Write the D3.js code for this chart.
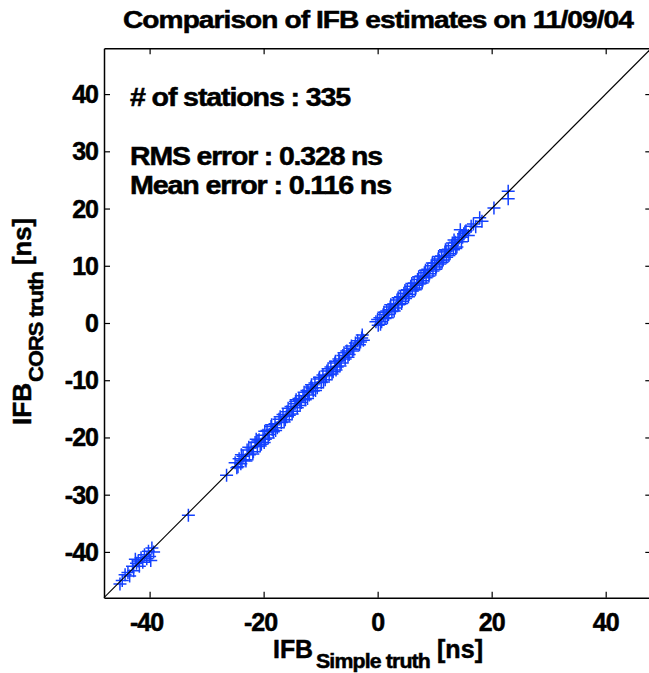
<!DOCTYPE html>
<html>
<head>
<meta charset="utf-8">
<script src="https://cdn.jsdelivr.net/npm/d3@7"></script>
<style>
  body { margin: 0; background: #fff; }
  svg text { font-family: "Liberation Sans", Arial, Helvetica, sans-serif; font-weight: bold; fill: #000; stroke: #000; stroke-width: 0.5px; }
</style>
</head>
<body>
<script>
// IFB estimates: simple truth (x) vs CORS truth (y), in ns
const simpleTruth = [
  -45.2, -44.8, -44.3, -43.8, -43.5, -43.0, -42.8, -42.5, -42.3, -42.0,
  -41.8, -41.5, -41.2, -40.9, -40.5, -40.2, -40.0, -39.8, -39.6, -39.3,
  -33.2, -26.5,
  -25.0, -24.7, -24.3, -24.0, -23.8, -23.6, -23.2, -22.9, -22.5, -22.2,
  -21.8, -21.5, -21.1, -21.0, -20.8, -20.4, -20.1, -19.9, -19.7, -19.4,
  -19.0, -18.7, -18.5, -18.3, -18.0, -17.6, -17.3, -16.9, -16.6, -16.2,
  -16.0, -15.9, -15.5, -15.2, -14.8, -14.5, -14.3, -14.1, -13.8, -13.7,
  -13.4, -13.1, -12.7, -12.4, -12.2, -12.0, -11.7, -11.5, -11.3, -11.0,
  -10.6, -10.3, -9.9, -9.6, -9.2, -9.0, -8.9, -8.5, -8.2, -7.8,
  -7.5, -7.3, -7.1, -6.8, -6.7, -6.4, -6.1, -5.7, -5.4, -5.0,
  -4.7, -4.4, -3.5, -3.2, -2.8, -2.5,
  -24.5, -23.9, -23.1, -22.6, -21.9, -21.3, -20.6, -19.8, -19.2, -18.6,
  -17.9, -17.1, -16.4, -15.7, -15.0, -14.4, -13.6, -12.9, -12.3, -11.6,
  -10.9, -10.2, -9.5, -8.7, -8.0, -7.4, -6.6, -5.9, -5.2, -4.6,
  -4.2, -3.9, -3.0, -2.7,
  -0.3, 0.1, 0.4, 0.7, 1.0, 1.3, 1.6, 1.9, 2.0, 2.2,
  2.5, 2.8, 3.1, 3.4, 3.5, 3.7, 4.0, 4.3, 4.6, 4.9,
  5.0, 5.2, 5.5, 5.8, 6.1, 6.4, 6.7, 6.9, 7.0, 7.3,
  7.6, 7.9, 8.0, 8.2, 8.5, 8.8, 9.1, 9.4, 9.7, 10.0,
  10.3, 10.6, 10.8, 10.9, 11.2, 11.5, 11.8, 12.0, 12.1, 12.4,
  12.7, 13.0, 13.3, 13.6, 13.9,
  0.0, 0.5, 1.1, 1.7, 2.3, 2.9, 3.6, 4.2, 4.8, 5.4,
  6.0, 6.6, 7.2, 7.8, 8.4, 9.0, 9.6, 10.2, 10.7, 11.3,
  11.9, 12.5, 13.1, 13.7, 14.1, 14.9, 15.3, 13.4,
  14.3, 14.5, 14.7, 15.1, 15.5, 15.9, 16.4, 16.8, 17.2, 17.9,
  18.3, 20.4, 22.9, 22.9
];
const corsTruth = [
  -45.6, -45.0, -44.0, -43.6, -44.2, -42.5, -43.3, -41.3, -42.0, -41.6,
  -42.5, -41.0, -41.8, -40.5, -41.2, -39.9, -40.8, -41.5, -39.3, -40.0,
  -33.6, -26.6,
  -24.4, -25.3, -23.7, -24.6, -24.0, -23.3, -23.9, -22.2, -23.0, -21.8,
  -22.5, -20.9, -21.6, -20.6, -20.4, -21.2, -19.6, -20.9, -20.3, -18.8,
  -19.5, -18.1, -18.6, -19.0, -17.6, -18.3, -16.8, -17.4, -16.0, -16.9,
  -16.3, -15.5, -16.1, -14.6, -15.4, -14.1, -13.4, -14.8, -13.2, -13.6,
  -13.9, -12.7, -13.4, -11.8, -12.0, -12.6, -11.2, -11.4, -11.9, -10.5,
  -11.3, -9.8, -10.4, -9.1, -9.9, -9.2, -8.4, -9.0, -7.7, -8.5,
  -7.0, -8.2, -7.7, -6.3, -6.6, -7.0, -5.7, -6.3, -4.9, -5.5,
  -4.4, -4.9, -3.1, -3.8, -2.6, -3.0,
  -25.1, -23.0, -24.1, -21.7, -22.9, -20.3, -21.5, -18.9, -20.1, -17.8,
  -18.8, -16.4, -17.3, -14.9, -15.9, -13.7, -14.4, -12.1, -13.2, -10.8,
  -11.8, -9.5, -10.3, -8.0, -8.9, -6.7, -7.5, -5.2, -6.0, -4.0,
  -4.6, -3.5, -3.3, -2.1,
  0.2, -0.4, 0.9, 0.2, 1.5, 0.8, 2.1, 1.5, 2.3, 2.8,
  2.0, 3.3, 2.6, 4.0, 3.3, 3.2, 4.6, 3.8, 5.2, 4.3,
  5.1, 5.8, 5.0, 6.4, 5.6, 7.0, 6.1, 6.6, 7.6, 6.8,
  8.2, 7.4, 8.1, 8.8, 7.9, 9.4, 8.6, 10.0, 9.1, 10.5,
  9.8, 11.2, 10.9, 10.3, 11.7, 11.0, 12.4, 12.6, 11.5, 12.9,
  12.1, 13.5, 12.8, 14.1, 13.3,
  0.6, -0.2, 1.9, 0.9, 3.2, 2.1, 4.4, 3.4, 5.7, 4.6,
  6.9, 5.8, 8.1, 7.0, 9.2, 8.2, 10.5, 9.4, 11.6, 10.6,
  12.8, 11.8, 14.0, 13.0, 14.6, 15.0, 15.9, 14.5,
  14.9, 16.3, 14.2, 15.6, 16.1, 15.3, 16.9, 17.3, 16.8, 18.4,
  17.8, 20.1, 23.0, 21.7
];
const xTicks = [-40, -20, 0, 20, 40];
const yTicks = [-40, -30, -20, -10, 0, 10, 20, 30, 40];
const axisDomain = [-48, 48];

const width = 649, height = 673;
const plotLeft = 104, plotRight = 651.3, plotTop = 48.3, plotBottom = 597.7;

const svg = d3.select('body').append('svg')
  .attr('width', width)
  .attr('height', height);

const x = d3.scaleLinear().domain(axisDomain).range([plotLeft, plotRight]);
const y = d3.scaleLinear().domain(axisDomain).range([plotBottom, plotTop]);

const points = simpleTruth.map((v, i) => [v, corsTruth[i]]);

// markers
const m = 6.5;
svg.append('g')
  .attr('stroke', '#1442ff')
  .attr('stroke-width', 1.5)
  .selectAll('path')
  .data(points)
  .join('path')
  .attr('d', d => {
    const px = x(d[0]), py = y(d[1]);
    return `M${px - m},${py}H${px + m}M${px},${py - m}V${py + m}`;
  });

// 1:1 line
svg.append('line')
  .attr('x1', x(axisDomain[0])).attr('y1', y(axisDomain[0]))
  .attr('x2', x(axisDomain[1])).attr('y2', y(axisDomain[1]))
  .attr('stroke', '#000')
  .attr('stroke-width', 1.1);

// axes box with inward ticks
const tickLen = 6;
const styleAxis = g => {
  g.select('.domain').attr('stroke-width', 1.5);
  g.selectAll('.tick line').attr('stroke-width', 1.2);
  g.selectAll('.tick text').remove();
};
svg.append('g').attr('transform', `translate(0,${plotBottom})`)
  .call(d3.axisBottom(x).tickValues(xTicks).tickSize(-tickLen).tickSizeOuter(0))
  .call(styleAxis);
svg.append('g').attr('transform', `translate(0,${plotTop})`)
  .call(d3.axisTop(x).tickValues(xTicks).tickSize(-tickLen).tickSizeOuter(0))
  .call(styleAxis);
svg.append('g').attr('transform', `translate(${plotLeft},0)`)
  .call(d3.axisLeft(y).tickValues(yTicks).tickSize(-tickLen).tickSizeOuter(0))
  .call(styleAxis);
svg.append('g').attr('transform', `translate(${plotRight},0)`)
  .call(d3.axisRight(y).tickValues(yTicks).tickSize(-tickLen).tickSizeOuter(0))
  .call(styleAxis);

// tick labels
const fmt = v => v < 0 ? '-' + Math.abs(v) : String(v);
svg.append('g').selectAll('text')
  .data(xTicks)
  .join('text')
  .attr('x', d => x(d) - (d < 0 ? 3 : 0))
  .attr('y', 631)
  .attr('text-anchor', 'middle')
  .attr('font-size', 25)
  .attr('letter-spacing', -1)
  .text(fmt);
svg.append('g').selectAll('text')
  .data(yTicks)
  .join('text')
  .attr('x', 98)
  .attr('y', d => y(d) + 9)
  .attr('text-anchor', 'end')
  .attr('font-size', 25)
  .attr('letter-spacing', -1)
  .text(fmt);

// title
svg.append('text')
  .attr('x', 378).attr('y', 28)
  .attr('text-anchor', 'middle')
  .attr('font-size', 24)
  .attr('letter-spacing', -0.8)
  .attr('textLength', 510).attr('lengthAdjust', 'spacingAndGlyphs')
  .text('Comparison of IFB estimates on 11/09/04');

// annotations
const notes = [
  { t: '# of stations : 335', y: 106, w: 220 },
  { t: 'RMS error : 0.328 ns', y: 165, w: 252 },
  { t: 'Mean error : 0.116 ns', y: 194, w: 261 }
];
svg.append('g').selectAll('text')
  .data(notes)
  .join('text')
  .attr('x', 130)
  .attr('y', d => d.y)
  .attr('font-size', 25)
  .attr('letter-spacing', -1)
  .attr('textLength', d => d.w).attr('lengthAdjust', 'spacingAndGlyphs')
  .text(d => d.t);

// x label
const xl = svg.append('g');
xl.append('text').attr('x', 273).attr('y', 658).attr('font-size', 25)
  .attr('textLength', 40).attr('lengthAdjust', 'spacingAndGlyphs').text('IFB');
xl.append('text').attr('x', 316).attr('y', 668).attr('font-size', 20)
  .attr('letter-spacing', -0.8)
  .attr('textLength', 114).attr('lengthAdjust', 'spacingAndGlyphs').text('Simple truth');
xl.append('text').attr('x', 437).attr('y', 658).attr('font-size', 25)
  .attr('textLength', 46).attr('lengthAdjust', 'spacingAndGlyphs').text('[ns]');

// y label
const yl = svg.append('g').attr('transform', 'translate(31,0) rotate(-90)');
yl.append('text').attr('x', -425).attr('y', 0).attr('font-size', 25)
  .attr('textLength', 42).attr('lengthAdjust', 'spacingAndGlyphs').text('IFB');
yl.append('text').attr('x', -382).attr('y', 12).attr('font-size', 20)
  .attr('letter-spacing', -0.8)
  .attr('textLength', 110).attr('lengthAdjust', 'spacingAndGlyphs').text('CORS truth');
yl.append('text').attr('x', -265).attr('y', 0).attr('font-size', 25)
  .attr('textLength', 47).attr('lengthAdjust', 'spacingAndGlyphs').text('[ns]');
</script>
</body>
</html>
